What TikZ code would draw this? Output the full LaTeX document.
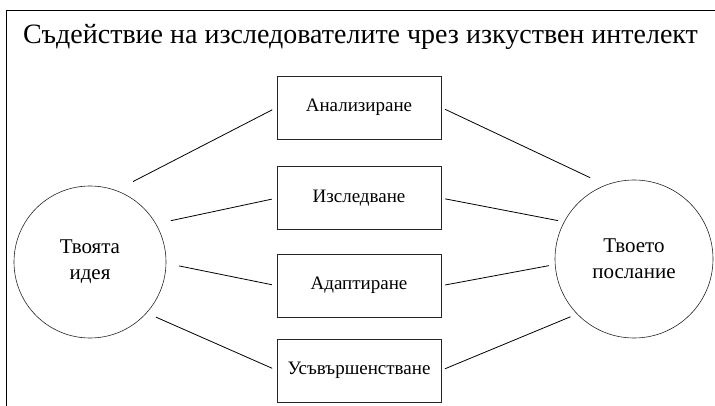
\documentclass[tikz,border=0pt]{standalone}
\usepackage{fontspec}
\setmainfont{Liberation Serif}
\usetikzlibrary{positioning}
\tikzset{
    %Define style for the two circles
    krag/.style={
           circle,
           draw=black!85, line width=0.6pt,
           inner sep=0pt,
           align=center,
           font=\fontsize{21}{26}\selectfont},
    %Define style for boxes
    kutia/.style={
           rectangle,
           draw=black!85, line width=0.6pt,
           minimum width=164pt,
           minimum height=63pt,
           inner sep=0pt,
           text centered,
           font=\fontsize{19}{23}\selectfont},
    % Define line style
    liniq/.style={
           -,
           draw=black,
           line width=0.8pt}
}
\begin{document}
\begin{tikzpicture}[x=1pt,y=-1pt]
\useasboundingbox (0,0) rectangle (715,406);
% frame
\draw[line width=0.8pt] (715,10) -- (6.7,10) -- (6.7,406);

 %nodes
\node[anchor=base, font=\fontsize{28}{32}\selectfont] (naslov) at (360.5,44)
    {Съдействие на изследователите чрез изкуствен интелект};

\node[kutia] (anal) at (359,107.5) {Анализиране};
\node[kutia, below=27pt of anal] (izsl) {Изследване};
\node[kutia, below=24pt of izsl] (adap) {Адаптиране};
\node[kutia, below=21pt of adap] (usav) {Усъвършенстване};

\node[krag, minimum size=152pt] (ideq) at (90,262) {Твоята\\идея};
\node[krag, minimum size=158pt] (posl) at (634,259) {Твоето\\послание};

 \path[liniq]
    (ideq.70)  edge[shorten <=19pt, shorten >=5pt] (anal.west)
    (ideq.30)  edge[shorten <=15pt, shorten >=5pt] (izsl.west)
    (ideq.-1)  edge[shorten <=13pt, shorten >=5pt] (adap.west)
    (ideq.-42) edge[shorten <=10pt, shorten >=5pt] (usav.west)
    (anal.east) edge[shorten <=4pt, shorten >=17pt] (posl.111)
    (izsl.east) edge[shorten <=4pt, shorten >=6pt] (posl.152)
    (adap.east) edge[shorten <=4pt, shorten >=6pt] (posl.184)
    (usav.east) edge[shorten <=4pt, shorten >=7pt] (posl.224);

\end{tikzpicture}
\end{document}
